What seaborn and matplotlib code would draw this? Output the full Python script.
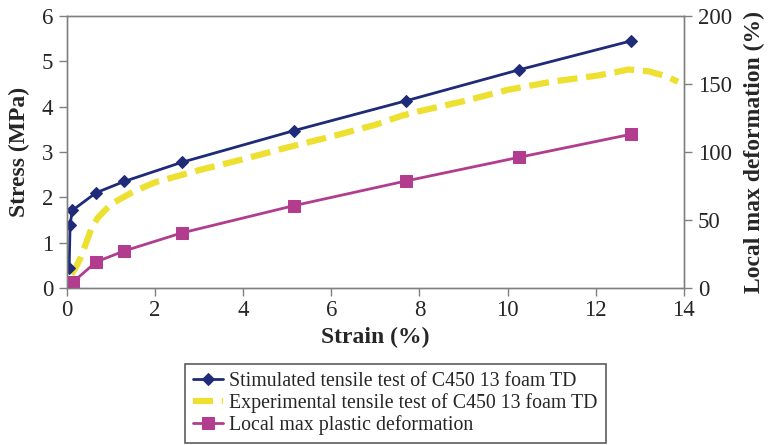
import matplotlib
matplotlib.use("Agg")
import matplotlib.pyplot as plt
import seaborn as sns

# ---------------- DATA ----------------
sim_strain = [0.05, 0.07, 0.12, 0.66, 1.3, 2.6, 5.15, 7.7, 10.25, 12.8]
sim_stress = [0.45, 1.39, 1.71, 2.1, 2.35, 2.77, 3.47, 4.13, 4.81, 5.45]

exp_strain = [0.1, 0.2, 0.3, 0.4, 0.55, 0.7, 1.0, 1.5, 2.0, 3.0, 4.0, 5.0, 6.0,
              7.0, 7.6, 8.0, 9.0, 10.0, 11.0, 12.0, 12.4, 12.75, 13.2, 13.6, 13.87]
exp_stress = [0.3, 0.45, 0.65, 0.9, 1.3, 1.55, 1.85, 2.12, 2.33, 2.6, 2.84, 3.1, 3.34,
              3.6, 3.8, 3.9, 4.12, 4.37, 4.55, 4.68, 4.75, 4.82, 4.78, 4.67, 4.55]

loc_strain = [0.14, 0.66, 1.3, 2.6, 5.15, 7.7, 10.25, 12.8]
loc_deform = [4.4, 19.1, 27.2, 40.4, 60.5, 78.7, 96.0, 113.0]

left_ticks = [0, 1, 2, 3, 4, 5, 6]
right_ticks = [0, 50, 100, 150, 200]
x_ticks = [0, 2, 4, 6, 8, 10, 12, 14]

# ---------------- STYLE ----------------
sns.set_style("white")
plt.rcParams["font.family"] = ["Liberation Serif", "DejaVu Serif"]

blue = "#1F2A78"
yellow = "#EDE030"
magenta = "#B23C8E"
frame = "#808080"

fig = plt.figure(figsize=(7.7, 4.45), dpi=100)
ax = fig.add_axes([0.087, 0.353, 0.801, 0.611])
ax2 = ax.twinx()

sns.lineplot(x=exp_strain, y=exp_stress, ax=ax, color=yellow, linewidth=4.5,
             linestyle=(0, (3.2, 1.4)), sort=False,
             label="Experimental tensile test of C450 13 foam TD", legend=False)
sns.lineplot(x=sim_strain, y=sim_stress, ax=ax, color=blue, linewidth=2,
             marker="D", markersize=6, markeredgecolor=blue, sort=False,
             label="Stimulated tensile test of C450 13 foam TD", legend=False)
sns.lineplot(x=loc_strain, y=loc_deform, ax=ax2, color=magenta, linewidth=2,
             marker="s", markersize=8, markeredgecolor=magenta, sort=False,
             label="Local max plastic deformation", legend=False)

ax.set_xlim(0, 14)
ax.set_ylim(0, 6)
ax2.set_ylim(0, 200)
ax.set_xticks(x_ticks)
ax.set_yticks(left_ticks)
ax2.set_yticks(right_ticks)

ax.set_xlabel("Strain (%)", fontsize=17, fontweight="bold", labelpad=4)
ax.set_ylabel("Stress (MPa)", fontsize=17, fontweight="bold", labelpad=8)
ax2.set_ylabel("Local max deformation (%)", fontsize=17, fontweight="bold", labelpad=9)

for a in (ax, ax2):
    a.tick_params(labelsize=16.5, length=6, width=1, color=frame, direction="out")
    for s in a.spines.values():
        s.set_color(frame)
        s.set_linewidth(1)
ax.tick_params(axis="y", left=True, pad=4)
ax.tick_params(axis="x", bottom=True, pad=3)
ax2.tick_params(axis="y", right=True, pad=4)

# ---------------- LEGEND ----------------
h1, l1 = ax.get_legend_handles_labels()
h2, l2 = ax2.get_legend_handles_labels()
handles = [h1[1], h1[0], h2[0]]
labels = [l1[1], l1[0], l2[0]]
leg = fig.legend(handles, labels, loc="lower left", bbox_to_anchor=(0.24, 0.004),
                 frameon=True, fancybox=False, edgecolor="#333333", fontsize=14.3,
                 handlelength=1.5, handletextpad=0.35, borderpad=0.4,
                 labelspacing=0.12, borderaxespad=0)
leg.get_frame().set_linewidth(1.2)

fig.savefig("out.png", dpi=100)
